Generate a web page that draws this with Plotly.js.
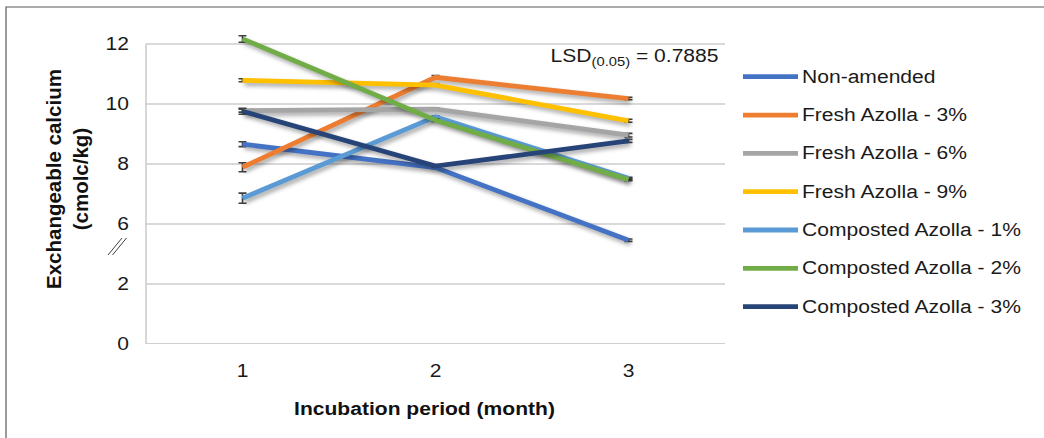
<!DOCTYPE html>
<html><head><meta charset="utf-8">
<script src="https://cdn.plot.ly/plotly-3.0.1.min.js"></script>
<style>
html,body{margin:0;padding:0;background:#fff;}
#chart{width:1044px;height:438px;}
.scatterlayer .js-line{filter:drop-shadow(2px 3px 2px rgba(0,0,0,0.35));}
</style></head><body><div id="chart"></div>
<script>
// ---- data ----
const months = ['1', '2', '3'];
const seriesNames = ['Non-amended', 'Fresh Azolla - 3%', 'Fresh Azolla - 6%', 'Fresh Azolla - 9%',
  'Composted Azolla - 1%', 'Composted Azolla - 2%', 'Composted Azolla - 3%'];
const nonAmended   = [8.66, 7.88, 5.46];
const freshAz3     = [7.89, 10.89, 10.18];
const freshAz6     = [9.78, 9.83, 8.96];
const freshAz9     = [10.79, 10.63, 9.44];
const compAz1      = [6.86, 9.57, 7.52];
const compAz2      = [12.17, 9.46, 7.48];
const compAz3      = [9.76, 7.93, 8.77];
const errNonAmended = [0.08, 0.04, 0.04];
const errFreshAz3   = [0.15, 0.06, 0.04];
const errFreshAz6   = [0.05, 0.04, 0.06];
const errFreshAz9   = [0.05, 0.04, 0.05];
const errCompAz1    = [0.17, 0.04, 0.04];
const errCompAz2    = [0.11, 0.04, 0.04];
const errCompAz3    = [0.10, 0.04, 0.05];
const yTickLabels = ['0', '2', '6', '8', '10', '12'];
const lsdText = 'LSD<sub>(0.05)</sub> = 0.7885';

// ---- styling ----
const colors = ['#4472C4', '#ED7D31', '#A5A5A5', '#FFC000', '#5B9BD5', '#70AD47', '#264478'];
const values = [nonAmended, freshAz3, freshAz6, freshAz9, compAz1, compAz2, compAz3];
const errors = [errNonAmended, errFreshAz3, errFreshAz6, errFreshAz9, errCompAz1, errCompAz2, errCompAz3];
// broken axis: the 2..6 gap is cut out, so values are shown shifted down by 2
const BREAK_SHIFT = 2;
const yTickVals = [0, 2, 4, 6, 8, 10];

const W = 1044, H = 438, L = 146, R = 319, T = 35, B = 94;
const PW = W - L - R, PH = H - T - B;
const px = x => (x - L) / PW;
const py = y => (H - B - y) / PH;

const FONT = 'Liberation Sans, Arial, sans-serif';
const TXT = '#1a1a1a';

const traces = values.map((v, i) => ({
  type: 'scatter', mode: 'lines', name: seriesNames[i], x: months,
  y: v.map(d => d - BREAK_SHIFT),
  line: {color: colors[i], width: 4.8},
  error_y: {type: 'data', array: errors[i], visible: true, color: '#404040', thickness: 1.6, width: 4},
  showlegend: false, hoverinfo: 'skip'
}));

const shapes = [
  // outer frame
  {type: 'rect', xref: 'paper', yref: 'paper', x0: px(6), x1: px(1060), y0: py(7), y1: py(460),
   line: {color: '#595959', width: 1.2}, fillcolor: 'rgba(0,0,0,0)', layer: 'below'},
  // left axis line
  {type: 'line', xref: 'paper', yref: 'y', x0: 0, x1: 0, y0: 0, y1: 10, line: {color: '#c8c8c8', width: 1.5}},
  // bottom axis line
  {type: 'line', xref: 'paper', yref: 'y', x0: 0, x1: 1, y0: 0, y1: 0, line: {color: '#d0d0d0', width: 1.8}},
  // axis-break marks
  {type: 'line', xref: 'paper', yref: 'paper', x0: px(108), x1: px(122), y0: py(255), y1: py(238), line: {color: '#404040', width: 1}},
  {type: 'line', xref: 'paper', yref: 'paper', x0: px(112.5), x1: px(126.5), y0: py(255), y1: py(238), line: {color: '#404040', width: 1}}
];

const annotations = [
  {xref: 'paper', yref: 'paper', x: px(721), y: py(57), xanchor: 'right', yanchor: 'middle', align: 'right',
   text: lsdText, showarrow: false, font: {family: FONT, size: 18, color: TXT}},
  {xref: 'paper', yref: 'paper', x: px(424), y: py(409), xanchor: 'center', yanchor: 'middle',
   text: '<b>Incubation period (month)</b>', showarrow: false, font: {family: FONT, size: 18, color: '#111'}},
  {xref: 'paper', yref: 'paper', x: px(67), y: py(179), xanchor: 'center', yanchor: 'middle', textangle: -90,
   text: '<b>Exchangeable calcium<br>(cmolc/kg)</b>', showarrow: false, font: {family: FONT, size: 20.5, color: '#111'}}
];

// legend drawn as shapes + text
seriesNames.forEach((n, i) => {
  const yy = 76.7 + i * 38.33;
  shapes.push({type: 'line', xref: 'paper', yref: 'paper', x0: px(743), x1: px(798), y0: py(yy), y1: py(yy),
    line: {color: colors[i], width: 4.8}});
  annotations.push({xref: 'paper', yref: 'paper', x: px(800), y: py(yy), xanchor: 'left', yanchor: 'middle', align: 'left',
    text: n, showarrow: false, font: {family: FONT, size: 18, color: TXT}});
});

const layout = {
  width: W, height: H,
  margin: {l: L, r: R, t: T, b: B},
  paper_bgcolor: '#fff', plot_bgcolor: '#fff',
  font: {family: FONT, size: 18, color: TXT},
  showlegend: false,
  xaxis: {type: 'category', range: [-0.5, 2.5], showgrid: false, zeroline: false, showline: false,
    ticks: '', ticklabelstandoff: 14, tickfont: {size: 18, color: TXT}, fixedrange: true},
  yaxis: {range: [0, 10.3], tickvals: yTickVals, ticktext: yTickLabels, showgrid: true, gridcolor: '#d9d9d9', gridwidth: 1.3,
    zeroline: false, showline: false, ticks: '', ticklabelstandoff: 16, tickfont: {size: 18, color: TXT}, fixedrange: true},
  shapes: shapes,
  annotations: annotations
};

Plotly.newPlot('chart', traces, layout, {staticPlot: true, displayModeBar: false}).then(gd => {
  // the reference image is horizontally stretched; widen horizontal texts accordingly
  const STRETCH = 1.17;
  gd.querySelectorAll('.xtick text, .ytick text, .annotation-text').forEach(t => {
    if (t.textContent.indexOf('Exchangeable') === 0) return;
    const w = t.getComputedTextLength();
    t.setAttribute('textLength', (w * STRETCH).toFixed(1));
    t.setAttribute('lengthAdjust', 'spacingAndGlyphs');
  });
});
</script></body></html>
